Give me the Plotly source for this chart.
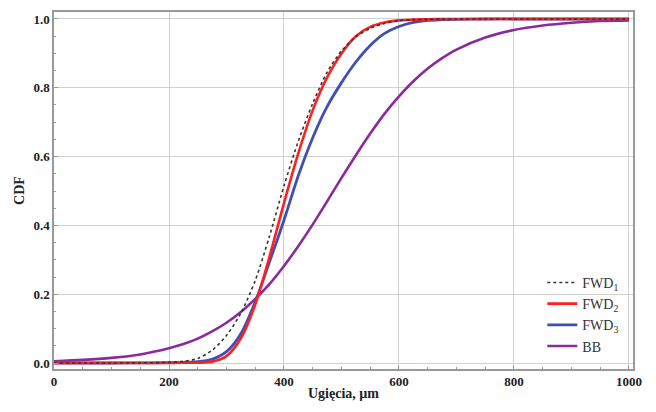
import plotly.graph_objects as go

# Deflection values (µm) at which the CDFs were read
x_vals = [0, 50, 100, 150, 200, 225, 250, 275, 300, 325, 350, 375, 400, 425, 450,
          475, 500, 525, 550, 575, 600, 625, 650, 675, 700, 750, 800, 850, 900, 950, 1000]

fwd1 = [0.0, 0.0, 0.0, 0.0005, 0.002, 0.005, 0.013, 0.037, 0.08, 0.145, 0.24, 0.37,
        0.515, 0.645, 0.755, 0.845, 0.907, 0.948, 0.973, 0.987, 0.995, 0.998, 0.999, 1.0,
        1.0, 1.0, 1.0, 1.0, 1.0, 1.0, 1.0]
fwd2 = [0.0, 0.0, 0.0, 0.0, 0.0003, 0.0006, 0.001, 0.004, 0.02, 0.072, 0.17, 0.31,
        0.465, 0.61, 0.735, 0.83, 0.90, 0.95, 0.977, 0.99, 0.996, 0.998, 0.999, 1.0,
        1.0, 1.0, 1.0, 1.0, 1.0, 1.0, 1.0]
fwd3 = [0.0, 0.0, 0.0, 0.0004, 0.001, 0.002, 0.004, 0.011, 0.033, 0.085, 0.178, 0.295,
        0.415, 0.545, 0.655, 0.745, 0.815, 0.875, 0.923, 0.958, 0.978, 0.99, 0.996, 0.998,
        0.999, 1.0, 1.0, 1.0, 1.0, 1.0, 1.0]
bb = [0.005, 0.009, 0.015, 0.025, 0.043, 0.055, 0.071, 0.092, 0.117, 0.148, 0.186, 0.230,
      0.282, 0.340, 0.403, 0.470, 0.538, 0.604, 0.667, 0.725, 0.775, 0.819, 0.856, 0.886,
      0.911, 0.946, 0.968, 0.981, 0.989, 0.994, 0.996]

series_names = ["FWD<sub>1</sub>", "FWD<sub>2</sub>", "FWD<sub>3</sub>", "BB"]
x_ticks = [0, 200, 400, 600, 800, 1000]
y_ticks = [0.0, 0.2, 0.4, 0.6, 0.8, 1.0]
y_tick_labels = ["0.0", "0.2", "0.4", "0.6", "0.8", "1.0"]

FONT = "Liberation Serif"

fig = go.Figure()
fig.add_trace(go.Scatter(x=x_vals, y=bb, name=series_names[3], mode="lines",
                         line=dict(color="#8a2a9c", width=2.6, shape="spline", smoothing=0.8)))
fig.add_trace(go.Scatter(x=x_vals, y=fwd3, name=series_names[2], mode="lines",
                         line=dict(color="#3f4fb5", width=2.8, shape="spline", smoothing=0.8)))
fig.add_trace(go.Scatter(x=x_vals, y=fwd2, name=series_names[1], mode="lines",
                         line=dict(color="#ff1f1f", width=2.6, shape="spline", smoothing=0.8)))
fig.add_trace(go.Scatter(x=x_vals, y=fwd1, name=series_names[0], mode="lines",
                         line=dict(color="#333333", width=1.6, dash="dot", shape="spline", smoothing=0.8)))

axis_common = dict(showline=True, mirror=True, linecolor="#9a9a9a", linewidth=1.5,
                   showgrid=True, gridcolor="#d0d0d0", gridwidth=1, automargin=False,
                   ticks="inside", ticklen=4, tickcolor="#9a9a9a", zeroline=False,
                   tickfont=dict(family=FONT, size=13, color="#222", weight="bold"))

fig.update_xaxes(range=[0, 1007], tickvals=x_ticks,
                 minor=dict(dtick=50, ticks="inside", ticklen=2, tickcolor="#9a9a9a", showgrid=False),
                 title=dict(text="Ugięcia, µm", font=dict(family=FONT, size=14, color="#222", weight="bold"),
                            standoff=0),
                 **axis_common)
fig.update_yaxes(range=[-0.0174, 1.0203], tickvals=y_ticks, ticktext=y_tick_labels,
                 minor=dict(dtick=0.05, ticks="inside", ticklen=2, tickcolor="#9a9a9a", showgrid=False),
                 title=dict(text="CDF", font=dict(family=FONT, size=14, color="#222", weight="bold"),
                            standoff=6),
                 **axis_common)

# page body has an 8px default margin, so the figure is shrunk/offset accordingly
fig.update_layout(
    width=648, height=404,
    margin=dict(l=46, r=23, t=4, b=43),
    paper_bgcolor="white", plot_bgcolor="white",
    showlegend=True,
    legend=dict(x=0.985, y=0.02, xanchor="right", yanchor="bottom",
                bgcolor="rgba(0,0,0,0)", traceorder="reversed",
                font=dict(family=FONT, size=14, color="#333"),
                itemwidth=30, tracegroupgap=0),
)

fig.write_html("out.html")
